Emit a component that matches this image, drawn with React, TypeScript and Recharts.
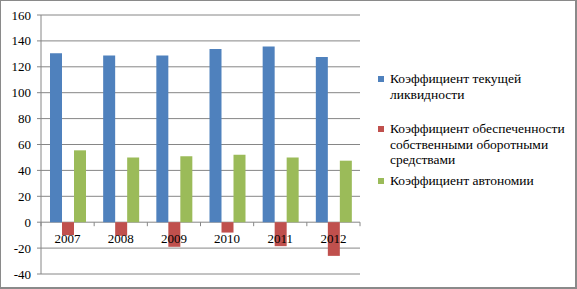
import React from 'react';
import { BarChart, Bar, XAxis, YAxis, CartesianGrid } from 'recharts';

const years = ['2007', '2008', '2009', '2010', '2011', '2012'];
const currentLiquidity = [130.5, 128.7, 128.7, 133.7, 135.7, 127.5];
const workingCapital = [-10, -10.5, -19, -8, -18.5, -26];
const autonomy = [55.5, 50, 51, 52, 50, 47.5];
const yTicks = [-40, -20, 0, 20, 40, 60, 80, 100, 120, 140, 160];

const seriesNames = [
  'Коэффициент текущей ликвидности',
  'Коэффициент обеспеченности собственными оборотными средствами',
  'Коэффициент автономии',
];
const seriesColors = ['#4F81BD', '#C0504D', '#9BBB59'];

const data = years.map((year, i) => ({
  year,
  current: currentLiquidity[i],
  capital: workingCapital[i],
  autonomy: autonomy[i],
}));

const W = 577;
const H = 289;
const M = { top: 15, right: 217, bottom: 0, left: 0 };
const X_AXIS_H = 15;
const Y_AXIS_W = 41;
const GRID = '#868686';
const FONT = '"Liberation Serif", "DejaVu Serif", serif';
const textStyle = { fontFamily: FONT, fontSize: 13 };

const plotH = H - M.top - M.bottom - X_AXIS_H;
const plotW = W - M.left - M.right - Y_AXIS_W;
const zeroUp = (plotH * (0 - yTicks[0])) / (yTicks[yTicks.length - 1] - yTicks[0]);
const band = plotW / years.length;

// year labels sit under the zero line, with tick marks at category boundaries
const YearTick = (props: any) => {
  const { x, y, payload, index } = props;
  const zy = y - zeroUp;
  return (
    <g>
      <line x1={x - band / 2} x2={x - band / 2} y1={zy} y2={zy + 4} stroke={GRID} />
      {index === years.length - 1 && (
        <line x1={x + band / 2} x2={x + band / 2} y1={zy} y2={zy + 4} stroke={GRID} />
      )}
      <text x={x} y={zy + 21} textAnchor="middle" fill="#000" style={textStyle}>
        {payload.value}
      </text>
    </g>
  );
};

const ValueTick = (props: any) => {
  const { x, y, payload } = props;
  return (
    <text x={x} y={y + 4.5} textAnchor="end" fill="#000" style={textStyle}>
      {payload.value}
    </text>
  );
};

const legendGaps = [0, 19, 5];

export default function App() {
  return (
    <div style={{ position: 'relative', width: W, height: H, background: '#fff' }}>
      <style>{'body{margin:0}'}</style>
      <BarChart
        width={W}
        height={H}
        data={data}
        margin={M}
        barSize={12}
        barGap={0}
      >
        <CartesianGrid vertical={false} stroke={GRID} strokeWidth={1} />
        <XAxis
          dataKey="year"
          height={X_AXIS_H}
          axisLine={false}
          tickLine={false}
          tickSize={0}
          tickMargin={0}
          tick={YearTick}
          interval={0}
        />
        <YAxis
          width={Y_AXIS_W}
          domain={[-40, 160]}
          ticks={yTicks}
          interval={0}
          axisLine={{ stroke: GRID }}
          tickLine={{ stroke: GRID }}
          tickSize={4}
          tickMargin={6}
          tick={ValueTick}
        />
        <Bar dataKey="current" fill={seriesColors[0]} isAnimationActive={false} />
        <Bar dataKey="capital" fill={seriesColors[1]} isAnimationActive={false} />
        <Bar dataKey="autonomy" fill={seriesColors[2]} isAnimationActive={false} />
      </BarChart>
      <div
        style={{
          position: 'absolute',
          left: 378,
          top: 71,
          width: 195,
          color: '#000',
        }}
      >
        {seriesNames.map((name, i) => (
          <div key={name} style={{ display: 'flex', marginTop: legendGaps[i] }}>
            <span
              style={{
                width: 6,
                height: 6,
                background: seriesColors[i],
                marginTop: 5,
                marginRight: 6,
                flexShrink: 0,
              }}
            />
            <span style={{ fontFamily: FONT, fontSize: 13.5, width: 185, lineHeight: '15.5px' }}>
              {name}
            </span>
          </div>
        ))}
      </div>
      <div
        style={{
          position: 'absolute',
          left: 0,
          top: 0,
          width: W,
          height: H,
          boxSizing: 'border-box',
          borderStyle: 'solid',
          borderColor: '#8a8a8a',
          borderWidth: '1px 2px 2px 1px',
          pointerEvents: 'none',
        }}
      />
    </div>
  );
}
